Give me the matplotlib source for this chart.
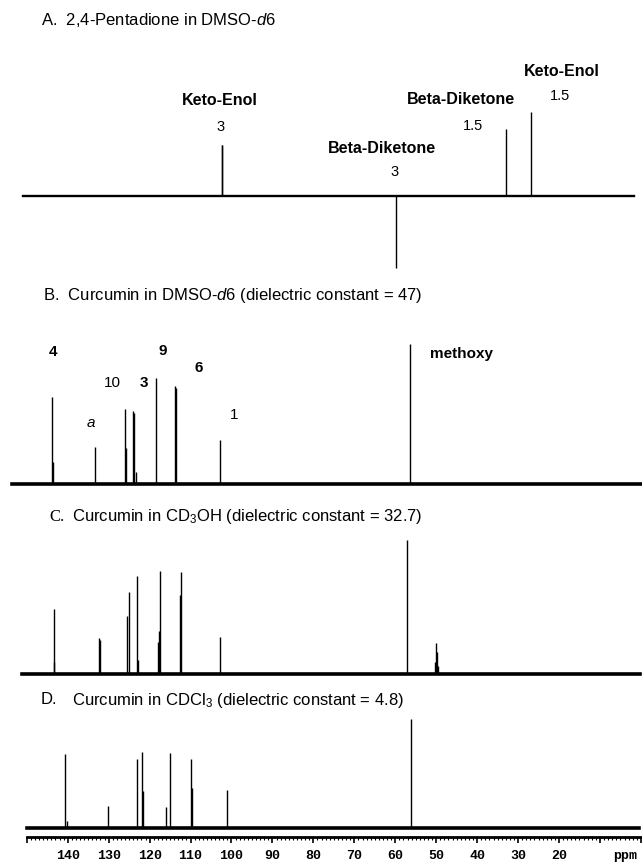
import matplotlib.pyplot as plt
from matplotlib.ticker import MultipleLocator, FixedLocator, FuncFormatter

plt.rcParams['font.family'] = ['Liberation Sans', 'DejaVu Sans']
plt.rcParams['mathtext.fontset'] = 'custom'
plt.rcParams['mathtext.rm'] = 'Liberation Sans'
plt.rcParams['mathtext.it'] = 'Liberation Sans:italic'
plt.rcParams['mathtext.bf'] = 'Liberation Sans:bold'

W, H = 642, 863  # tamano de la figura en pixeles

# ---------------- datos (ppm, intensidad en unidades arbitrarias) ----------------
# A. 2,4-pentanodiona en DMSO-d6 (negativo = CH2)
a_ppm = [102.2, 59.9, 32.9, 26.8]
a_int = [51, -72, 67, 84]
a_base = [150.9, 1.6]

# B. curcumina en DMSO-d6
b_ppm = [143.8, 143.6, 133.3, 125.9, 125.8, 124.0, 123.8, 123.4,
         118.3, 113.8, 113.6, 102.8, 56.4]
b_int = [88, 22, 37, 76, 36, 74, 72, 12,
         107, 99, 97, 44, 141]
b_base = [153.6, -0.3]

# C. curcumina en CD3OH
c_ppm = [143.35, 143.2, 132.4, 132.2, 125.4, 125.1, 123.0, 122.7,
         118.0, 117.7, 117.4, 112.6, 112.4, 102.7, 57.05,
         50.3, 50.0, 49.75, 49.5]
c_int = [65, 12, 36, 34, 58, 82, 98, 14,
         32, 43, 103, 79, 102, 37, 134,
         12, 31, 22, 8]
c_base = [151.2, 0.2]

# D. curcumina en CDCl3
d_ppm = [140.66, 140.2, 130.2, 123.07, 121.9, 121.6, 116.0, 114.94,
         109.75, 109.55, 101.16, 56.24]
d_int = [74, 7, 22, 69, 76, 37, 21, 75,
         69, 40, 38, 109]
d_base = [149.9, 0.4]

ticks_ppm = list(range(0, 151, 10))
ticks_lbl = [140, 130, 120, 110, 100, 90, 80, 70, 60, 50, 40, 30, 20]

# ---------------- figura ----------------
fig = plt.figure(figsize=(W / 100, H / 100), dpi=100)
x_izq, x_der = 156.5, -0.27   # ppm en el borde izquierdo/derecho de la figura


def panel(top, bottom, base):
    # ejes a todo lo ancho; 1 unidad de intensidad = 1 pixel
    ax = fig.add_axes([0, 1 - bottom / H, 1, (bottom - top) / H])
    ax.set_xlim(x_izq, x_der)
    ax.set_ylim(-(bottom - base), base - top)
    ax.axis('off')
    return ax


def titulo(x, y, s, **kw):
    fig.text(x / W, 1 - y / H, s, ha='left', va='center', fontsize=12, **kw)


# ---- A ----
axA = panel(0, 280, 196)
axA.plot(a_base, [0, 0], color='k', lw=1.7)
axA.vlines(a_ppm, 0, a_int, color='k', lw=1.0)
axA.vlines(a_ppm[0] + 0.15, 0, a_int[0], color='k', lw=1.0)
negr = dict(ha='center', va='center', fontsize=11.5, fontweight='bold')
norm = dict(ha='center', va='center', fontsize=10.5)
axA.text(102.85, 96, "Keto-Enol", **negr)
axA.text(102.55, 69, "3", **norm)
axA.text(44.05, 97, "Beta-Diketone", **negr)
axA.text(41.05, 70, "1.5", **norm)
axA.text(63.35, 48, "Beta-Diketone", **negr)
axA.text(60.05, 24, "3", **norm)
axA.text(19.36, 125, "Keto-Enol", **negr)
axA.text(19.75, 100, "1.5", **norm)
titulo(41, 20, "A.  2,4-Pentadione in DMSO-$\\mathit{d6}$")

# ---- B ----
axB = panel(280, 500, 484.5)
axB.plot(b_base, [0, 0], color='k', lw=2.6)
axB.vlines(b_ppm, 0, b_int, color='k', lw=1.0)
etq = dict(ha='center', va='center', fontsize=11)
axB.text(143.5, 133, "4", fontweight='bold', **etq)
axB.text(116.8, 134, "9", fontweight='bold', **etq)
axB.text(129.0, 101.5, "10", **etq)
axB.text(121.3, 102, "3", fontweight='bold', **etq)
axB.text(108.1, 117, "6", fontweight='bold', **etq)
axB.text(99.4, 69.5, "1", **etq)
axB.text(134.3, 62, "a", fontstyle='italic', **etq)
axB.text(43.8, 130.5, "methoxy", fontweight='bold', **etq)
titulo(43, 295, "B.  Curcumin in DMSO-$\\mathit{d6}$ (dielectric constant = 47)")

# ---- C ----
axC = panel(500, 690, 674.3)
axC.plot(c_base, [0, 0], color='k', lw=2.6)
axC.vlines(c_ppm, 0, c_int, color='k', lw=1.0)
titulo(49, 517, "C.", family='Liberation Serif')
titulo(71.6, 517, "Curcumin in CD$_3$OH (dielectric constant = 32.7)")

# ---- D ----
axD = panel(690, 863, 828.3)
axD.plot(d_base, [0, 0], color='k', lw=2.6)
axD.vlines(d_ppm, 0, d_int, color='k', lw=1.0)
titulo(41, 700, "D.")
titulo(71.6, 700, "Curcumin in CDCl$_3$ (dielectric constant = 4.8)")

# ---- regla de ppm ----
x150 = 26.8
x0 = 640.9
axR = fig.add_axes([x150 / W, 1 - 836.7 / H, (x0 - x150) / W, 0.0001])
axR.set_xlim(150, 0)
axR.set_yticks([])
for s in ['top', 'left', 'right']:
    axR.spines[s].set_visible(False)
axR.spines['bottom'].set_linewidth(2.0)
axR.xaxis.set_major_locator(FixedLocator(ticks_ppm))
axR.xaxis.set_minor_locator(MultipleLocator(1))
axR.xaxis.set_major_formatter(FuncFormatter(lambda v, p: str(int(v)) if int(v) in ticks_lbl else ""))
axR.tick_params(axis='x', which='major', length=4.5, width=1.2, pad=5,
                labelsize=9.5)
axR.tick_params(axis='x', which='minor', length=2.2, width=0.8)
for t in axR.get_xticklabels():
    t.set_family('Liberation Mono')
    t.set_fontweight('bold')
fig.text(625 / W, 1 - 855.5 / H, "ppm", ha='center', va='center',
         fontsize=9.5, family='Liberation Mono', fontweight='bold')

fig.savefig("out.png", dpi=100)
